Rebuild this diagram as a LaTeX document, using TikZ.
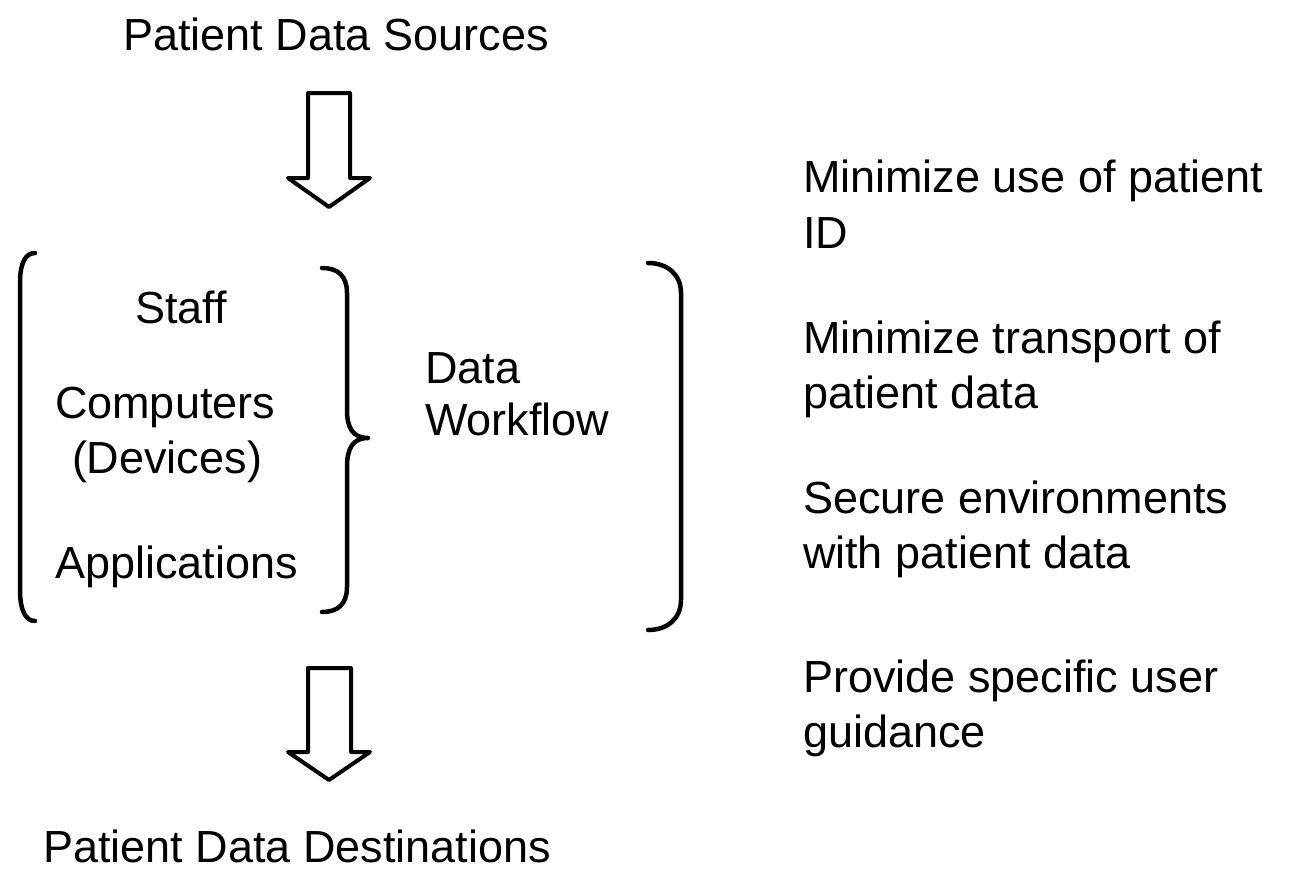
\documentclass[tikz,border=0pt]{standalone}
\usepackage{fontspec}
\setmainfont{Liberation Sans}
\begin{document}
\begin{tikzpicture}[x=1pt,y=-1pt,
  txt/.style={inner sep=0pt,outer sep=0pt,anchor=base west,font=\fontsize{45}{54}\selectfont},
  ctxt/.style={txt,anchor=base},
  bracket/.style={line width=4.5pt,line cap=round,line join=round},
  blockarrow/.style={line width=4pt,line join=round,fill=white}]
\useasboundingbox (0,0) rectangle (1310,868);

% titles
\node[ctxt] (src) at (336,50) {Patient Data Sources};
\node[ctxt] (dst) at (297,862) {Patient Data Destinations};

% hollow block arrows
\draw[blockarrow] (308,93) -- (350,93) -- (350,178) -- (370,178) -- (329,207)
  -- (288,178) -- (308,178) -- cycle;
\draw[blockarrow] (308,668) -- (351,668) -- (351,752) -- (370,752) -- (329,780)
  -- (288,752) -- (308,752) -- cycle;

% left group
\node[txt] (staff) at (135,323) {Staff};
\node[txt] (comp) at (55,418) {Computers};
\node[txt] (dev) at (72,473) {(Devices)};
\node[txt] (apps) at (55,578) {Applications};

% data workflow
\node[txt] (data) at (425,383) {Data};
\node[txt] (wf) at (425,435) {Workflow};

% right column
\node[txt] (r1a) at (803,192) {Minimize use of patient};
\node[txt] (r1b) at (803,248) {ID};
\node[txt] (r2a) at (803,353) {Minimize transport of};
\node[txt] (r2b) at (803,408) {patient data};
\node[txt] (r3a) at (803,513) {Secure environments};
\node[txt] (r3b) at (803,568) {with patient data};
\node[txt] (r4a) at (803,692) {Provide specific user};
\node[txt] (r4b) at (803,747) {guidance};

% left parenthesis-like bracket
\draw[bracket] (35,253) .. controls (26,253) and (20,262) .. (20,283)
  -- (20,590) .. controls (20,611) and (26,621) .. (35,621);

% curly brace
\draw[bracket] (322,268) .. controls (338,268) and (347,276) .. (347,293)
  -- (347,410) .. controls (347,428) and (353,438) .. (368,438)
  .. controls (353,438) and (347,448) .. (347,467)
  -- (347,587) .. controls (347,604) and (338,612) .. (322,612);

% right bracket
\draw[bracket] (648,263) .. controls (668,263) and (681,275) .. (681,293)
  -- (681,600) .. controls (681,618) and (668,630) .. (648,630);
\end{tikzpicture}
\end{document}
